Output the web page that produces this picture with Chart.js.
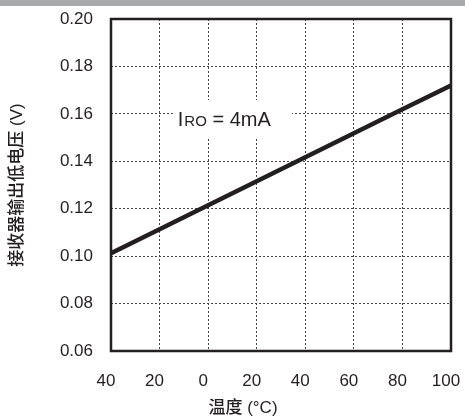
<!DOCTYPE html>
<html>
<head>
<meta charset="utf-8">
<script src="https://cdn.jsdelivr.net/npm/chart.js@4.4.0/dist/chart.umd.min.js"></script>
<style>
  html, body { margin: 0; padding: 0; background: #fff; }
  #wrap { position: relative; width: 465px; height: 417px; }
  #band { position: absolute; left: 0; top: 0; width: 465px; height: 6px; background: #a7a9ac; }
  canvas { position: absolute; left: 0; top: 0; }
</style>
</head>
<body>
<div id="wrap">
  <canvas id="chart" width="465" height="417"></canvas>
  <div id="band"></div>
</div>
<script>
// datos
const temps = [-40, -20, 0, 20, 40, 60, 80, 100];
const voltage = [0.1012, 0.1113, 0.1215, 0.1316, 0.1417, 0.1518, 0.1619, 0.172];
const xRange = [-40, 100];
const yRange = [0.06, 0.20];
const xTitle = "温度 (°C)";
const yTitle = "接收器输出低电压 (V)";
// etiqueta dentro del area
const noteMain = "I";
const noteSub = "RO";
const noteRest = " = 4mA";
const notePos = { x: -12.5, y: 0.1575 };
const noteBox = { x0: -13.6, x1: 34.5, y0: 0.1502, y1: 0.1658 };

const fontFam = "'Liberation Sans', Arial, 'Noto Sans CJK SC', sans-serif";
const ink = "#231f20";

const points = temps.map((t, i) => ({ x: t, y: voltage[i] }));

const frame = {
  id: "frame",
  beforeDatasetsDraw(chart) {
    const { ctx } = chart;
    const xs = chart.scales.x, ys = chart.scales.y;
    // caja blanca detras del texto
    const l = xs.getPixelForValue(noteBox.x0), r = xs.getPixelForValue(noteBox.x1);
    const t = ys.getPixelForValue(noteBox.y1), b = ys.getPixelForValue(noteBox.y0);
    ctx.save();
    ctx.fillStyle = "#fff";
    ctx.fillRect(l, t, r - l, b - t);
    const px = xs.getPixelForValue(notePos.x), py = ys.getPixelForValue(notePos.y);
    ctx.fillStyle = ink;
    ctx.textBaseline = "alphabetic";
    ctx.textAlign = "left";
    ctx.font = "20px " + fontFam;
    let cx = px;
    ctx.fillText(noteMain, cx, py + 6);
    cx += ctx.measureText(noteMain).width + 1;
    ctx.font = "15px " + fontFam;
    ctx.fillText(noteSub, cx, py + 6);
    cx += ctx.measureText(noteSub).width;
    ctx.font = "20px " + fontFam;
    ctx.fillText(noteRest, cx, py + 6);
    ctx.restore();
  },
  afterDraw(chart) {
    const { ctx, chartArea: a } = chart;
    ctx.save();
    ctx.strokeStyle = ink;
    ctx.lineWidth = 2.5;
    ctx.strokeRect(a.left, a.top, a.right - a.left, a.bottom - a.top);
    ctx.fillStyle = ink;
    ctx.font = "500 17px " + fontFam;
    ctx.textAlign = "center";
    ctx.textBaseline = "middle";
    ctx.fillText(xTitle, a.left + 132, 408);
    ctx.translate(17, (a.top + a.bottom) / 2);
    ctx.rotate(-Math.PI / 2);
    ctx.fillText(yTitle, 0, 0);
    ctx.restore();
  }
};

new Chart(document.getElementById("chart"), {
  type: "line",
  data: {
    datasets: [{
      data: points,
      borderColor: ink,
      borderWidth: 4.5,
      pointRadius: 0,
      tension: 0
    }]
  },
  options: {
    responsive: false,
    animation: false,
    layout: { padding: { top: 19, right: 14, left: 0, bottom: 0 } },
    plugins: { legend: { display: false }, tooltip: { enabled: false } },
    scales: {
      x: {
        type: "linear",
        min: xRange[0],
        max: xRange[1],
        afterFit(s) { s.height = 66; s.paddingLeft = 0; s.paddingRight = 0; },
        border: { display: false, dash: [2, 2] },
        grid: { color: "#444", lineWidth: 1, drawTicks: false },
        ticks: {
          stepSize: 20,
          padding: 20,
          labelOffset: -5,
          color: ink,
          font: { family: fontFam, size: 17 },
          callback: v => String(Math.abs(v))
        }
      },
      y: {
        min: yRange[0],
        max: yRange[1],
        afterFit(s) { s.width = 111; s.paddingTop = 0; s.paddingBottom = 0; },
        border: { display: false, dash: [2, 2] },
        grid: { color: "#444", lineWidth: 1, drawTicks: false },
        ticks: {
          stepSize: 0.02,
          padding: 18,
          color: ink,
          font: { family: fontFam, size: 17 },
          callback: v => v.toFixed(2)
        }
      }
    }
  },
  plugins: [frame]
});
</script>
</body>
</html>
